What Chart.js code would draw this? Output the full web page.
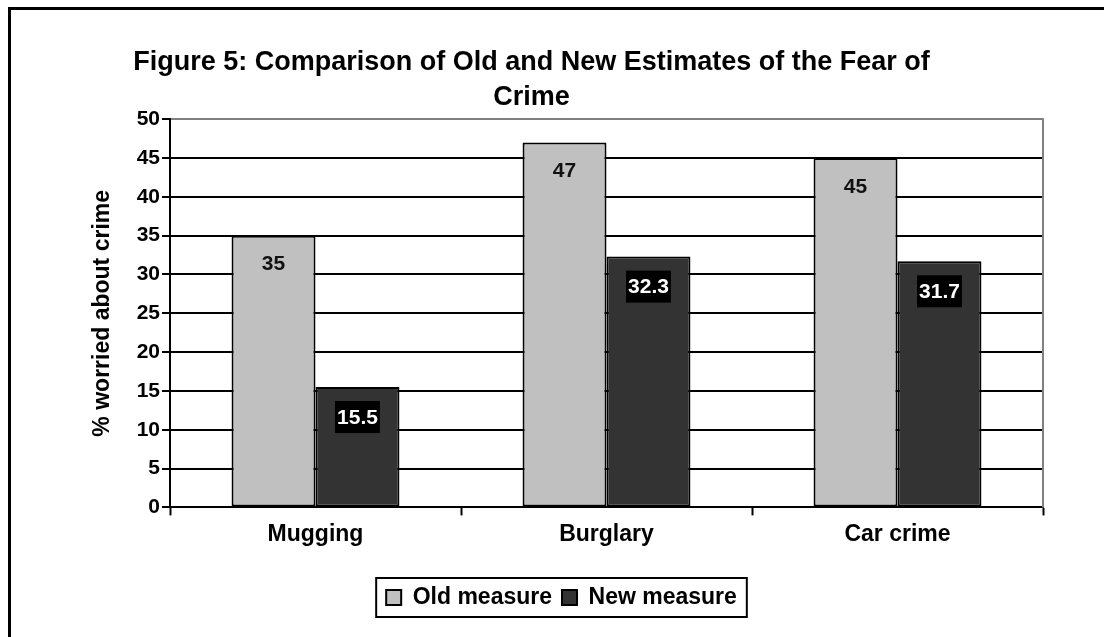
<!DOCTYPE html>
<html>
<head>
<meta charset="utf-8">
<script src="https://cdn.jsdelivr.net/npm/chart.js@4.4.1/dist/chart.umd.min.js"></script>
<style>
  html, body { margin: 0; padding: 0; background: #fff; }
  #wrap { width: 1104px; height: 637px; position: relative; }
</style>
</head>
<body>
<div id="wrap"><canvas id="fearChart"></canvas></div>
<script>
const categories = ['Mugging', 'Burglary', 'Car crime'];
const oldMeasure = [35, 47, 45];
const newMeasure = [15.5, 32.3, 31.7];
const yTicks = [0, 5, 10, 15, 20, 25, 30, 35, 40, 45, 50];

const FONT = "'Liberation Sans', Arial, sans-serif";
const TITLE_SHIFT = -30;

// outer frame (top and left edges only, the rest runs off the page)
const framePlugin = {
    id: 'frame',
    afterLayout(chart) {
        // the heading sits a bit left of the plot centre
        const t = chart.titleBlock;
        if (!t) return;
        t.left += TITLE_SHIFT;
        t.right += TITLE_SHIFT;
    },
    beforeDraw(chart) {
        const c = chart.ctx;
        c.save();
        c.fillStyle = '#fff';
        c.fillRect(0, 0, chart.width, chart.height);
        c.fillStyle = '#000';
        c.fillRect(8, 7, chart.width - 8, 3);
        c.fillRect(8, 7, 3, chart.height - 7);
        c.restore();
    },
    afterDraw(chart) {
        // grey right edge of plot area + box round the legend
        const c = chart.ctx;
        const a = chart.chartArea;
        c.save();
        c.strokeStyle = '#808080';
        c.lineWidth = 2;
        c.beginPath();
        c.moveTo(a.right, a.top - 1);
        c.lineTo(a.right, a.bottom);
        c.stroke();

        const boxes = chart.legend.legendHitBoxes;
        if (boxes && boxes.length) {
            const first = boxes[0];
            const last = boxes[boxes.length - 1];
            const x0 = first.left - 10;
            const x1 = last.left + last.width + 10;
            const y0 = first.top - 8;
            const y1 = first.top + first.height + 8;
            c.strokeStyle = '#000';
            c.lineWidth = 2;
            c.strokeRect(x0, y0, x1 - x0, y1 - y0);
        }
        c.restore();
    }
};

// value labels inside the bars
const valueLabels = {
    id: 'valueLabels',
    afterDatasetsDraw(chart) {
        const c = chart.ctx;
        c.save();
        c.font = 'bold 21px ' + FONT;
        c.textAlign = 'center';
        c.textBaseline = 'middle';
        chart.data.datasets.forEach((ds, di) => {
            const meta = chart.getDatasetMeta(di);
            meta.data.forEach((bar, i) => {
                const txt = String(ds.data[i]);
                if (di === 0) {
                    c.fillStyle = '#111';
                    c.fillText(txt, bar.x, bar.y + 29);
                } else {
                    const w = c.measureText(txt).width + 4;
                    c.fillStyle = '#000';
                    c.fillRect(bar.x - w / 2, bar.y + 14, w, 32);
                    c.fillStyle = '#fff';
                    c.fillText(txt, bar.x, bar.y + 31);
                }
            });
        });
        c.restore();
    }
};

const ctx = document.getElementById('fearChart').getContext('2d');

const fearChart = new Chart(ctx, {
    type: 'bar',
    data: {
        labels: categories,
        datasets: [{
            label: 'Old measure',
            data: oldMeasure,
            backgroundColor: '#C0C0C0',
            borderColor: '#000',
            borderWidth: 2,
            borderSkipped: false,
            barPercentage: 1,
            categoryPercentage: 0.577
        }, {
            label: 'New measure',
            data: newMeasure,
            backgroundColor: '#333333',
            borderColor: '#000',
            borderWidth: 2,
            borderSkipped: false,
            barPercentage: 1,
            categoryPercentage: 0.577
        }]
    },
    options: {
        responsive: true,
        maintainAspectRatio: false,
        animation: false,
        layout: { padding: { left: 80, right: 61, top: 35, bottom: 18 } },
        plugins: {
            title: {
                display: true,
                text: ['Figure 5: Comparison of Old and New Estimates of the Fear of', 'Crime'],
                color: '#000',
                font: { family: FONT, size: 27, weight: 'bold', lineHeight: 1.3 },
                padding: { top: 10, bottom: 4 }
            },
            legend: {
                position: 'bottom',
                labels: {
                    color: '#000',
                    font: { family: FONT, size: 23, weight: 'bold' },
                    boxWidth: 15,
                    boxHeight: 15,
                    padding: 10
                }
            },
            tooltip: { enabled: false }
        },
        scales: {
            x: {
                afterFit(scale) {
                    scale.height += 23;
                },
                grid: {
                    offset: true,
                    drawOnChartArea: false,
                    drawTicks: true,
                    tickLength: 8,
                    tickWidth: 2,
                    tickColor: '#000'
                },
                border: { color: '#000', width: 2 },
                ticks: {
                    color: '#000',
                    padding: 5,
                    font: { family: FONT, size: 23, weight: 'bold' }
                }
            },
            y: {
                min: 0,
                max: 50,
                afterBuildTicks(scale) {
                    scale.ticks = yTicks.map(v => ({ value: v }));
                },
                afterFit(scale) {
                    scale.width = 90;
                },
                grid: {
                    color: ctx => ctx.tick && ctx.tick.value === 50 ? '#808080' : '#000',
                    lineWidth: 2,
                    tickLength: 8,
                    tickColor: '#000'
                },
                border: { color: '#000', width: 2 },
                ticks: {
                    color: '#000',
                    padding: 2,
                    font: { family: FONT, size: 21, weight: 'bold' }
                },
                title: {
                    display: true,
                    text: '% worried about crime',
                    color: '#000',
                    font: { family: FONT, size: 23, weight: 'bold' },
                    padding: { top: 9, bottom: 0 }
                }
            }
        }
    },
    plugins: [framePlugin, valueLabels]
});
</script>
</body>
</html>
